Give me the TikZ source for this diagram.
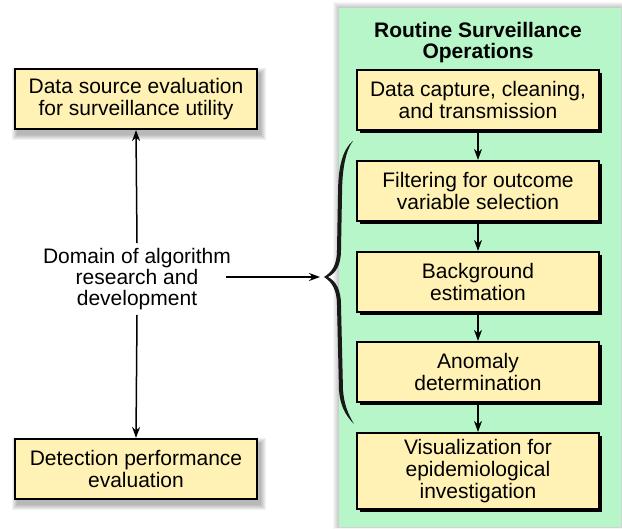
\documentclass[tikz,border=0pt]{standalone}
\usepackage{fontspec}
\setmainfont{Liberation Sans}
\usetikzlibrary{arrows.meta,shadows}
\definecolor{panelgreen}{RGB}{182,246,200}
\definecolor{boxyellow}{RGB}{255,242,180}
\begin{document}
\begin{tikzpicture}[x=1pt,y=-1pt,
  arr/.style={-{Stealth[length=11pt,width=8pt]}, line width=1.5pt},
  box/.style={draw=black, line width=2.2pt, fill=boxyellow, minimum width=242pt,
    minimum height=60pt, align=center, inner sep=0pt,
    font=\fontsize{21}{22}\selectfont},
  opsbox/.style={box, drop shadow={shadow xshift=3pt, shadow yshift=-3pt, fill=black, opacity=1}},
  plain/.style={align=center, font=\fontsize{21}{21}\selectfont}]
\useasboundingbox (0,0) rectangle (622,529);
\fill[white] (0,0) rectangle (622,529);

% soft shadow around the operations panel
\foreach \i in {1,...,6}
  \fill[black, opacity=0.035] (339-\i,8-\i) rectangle (621+\i*0.3,527+\i*0.3);
\fill[panelgreen] (339,8) rectangle (621,527);

% soft shadows under the two evaluation boxes
\foreach \cy in {99,469}
  \foreach \i in {1,...,6}
    \fill[black, opacity=0.05] (15+3-\i,\cy-30+5-\i) rectangle (257+3+\i,\cy+30+5+\i);

% evaluation boxes and the research domain
\node[box] (src) at (136,99) {Data source evaluation\\for surveillance utility};
\node[box] (det) at (136,469) {Detection performance\\evaluation};
\node[plain, inner sep=5pt] (dom) at (137,279) {Domain of algorithm\\research and\\development};

% routine operations
\node[align=center, font=\bfseries\fontsize{21}{21}\selectfont] (title) at (478,43)
  {Routine Surveillance\\Operations};
\node[opsbox] (cap) at (478,100) {Data capture, cleaning,\\and transmission};
\node[opsbox] (fil) at (478,191) {Filtering for outcome\\variable selection};
\node[opsbox] (bkg) at (478,282) {Background\\estimation};
\node[opsbox] (ano) at (478,372) {Anomaly\\determination};
\node[opsbox, minimum height=76pt] (vis) at (478,471) {Visualization for\\epidemiological\\investigation};

% flow through the operations
\draw[arr] (cap) -- (fil);
\draw[arr] (fil) -- (bkg);
\draw[arr] (bkg) -- (ano);
\draw[arr] (ano) -- (vis);

% curly brace grouping the analysis stages
\fill[black!90] (353,141) .. controls (342,150) and (338,168) .. (338,195)
  -- (337,250) .. controls (337,265) and (332,272) .. (324,277)
  .. controls (332,282) and (337,290) .. (337,305)
  -- (339,390) .. controls (340,405) and (345,415) .. (354,424)
  .. controls (348,414) and (344,404) .. (343,390)
  -- (341,305) .. controls (341,290) and (336,281) .. (328,277)
  .. controls (336,273) and (341,265) .. (341,250)
  -- (342,195) .. controls (342,168) and (346,150) .. (353,141) -- cycle;
\coordinate (brtip) at (320,277);

% links from the research domain
\draw[arr] (dom.north) -- (src.south);
\draw[arr] (dom.south) -- (det.north);
\draw[arr] ([xshift=-10pt]dom.east |- brtip) -- (brtip);
\end{tikzpicture}
\end{document}
